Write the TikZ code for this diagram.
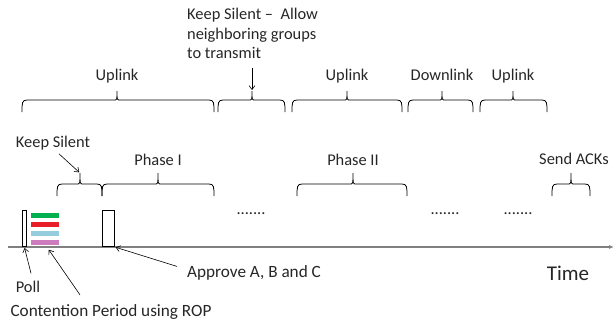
\documentclass[tikz,border=0pt]{standalone}
\usepackage{fontspec}
\setmainfont{Carlito}
\usetikzlibrary{arrows.meta}

\definecolor{bargreen}{RGB}{0,176,80}
\definecolor{barred}{RGB}{232,30,40}
\definecolor{barblue}{RGB}{150,205,222}
\definecolor{barpink}{RGB}{205,125,190}

% curly brace in office style: left x, right x, tip x, line y, tip height, tip name
\newcommand{\ofbrace}[6]{%
  \draw[bracel] (#1,#4+12) .. controls (#1,#4+3) and (#1,#4) .. (#1+5,#4) -- (#3-3,#4)
    .. controls (#3,#4) .. (#3,#4-#5) coordinate (#6)
    .. controls (#3,#4) .. (#3+3,#4) -- (#2-5,#4) .. controls (#2,#4) and (#2,#4+3) .. (#2,#4+12);}

\begin{document}
\begin{tikzpicture}[x=1pt, y=-1pt, font=\fontsize{16.4}{19.5}\selectfont, text=black!85,
		bracel/.style={line width=0.8pt},
		lbl/.style={inner sep=0pt, anchor=base},
		callout/.style={-{Straight Barb[length=4pt,width=6pt]}, line width=0.6pt, shorten >=1pt},
		slotbox/.style={draw, line width=0.7pt, fill=white, inner sep=0pt, anchor=south west},
		bar/.style={fill=#1, inner sep=0pt, minimum width=28pt, minimum height=5pt, anchor=north west}]
		\useasboundingbox (0,0) rectangle (616,322);
		% upper row of braces
		\ofbrace{22}{214}{117}{100}{9}{up1}
		\ofbrace{218}{285}{252}{100}{9}{quiet}
		\ofbrace{292}{402}{347}{100}{9}{up2}
		\ofbrace{408}{473}{442}{100}{9}{down}
		\ofbrace{480}{547}{513}{100}{9}{up3}
		% lower row of braces
		\ofbrace{57}{102}{80}{184}{11}{silent}
		\ofbrace{102}{214}{158}{184}{11}{ph1}
		\ofbrace{297}{407}{353}{184}{11}{ph2}
		\ofbrace{552}{590}{571}{184}{11}{ack}
		\node[lbl] (lup1) at (117,80) {Uplink};
		\node[lbl] (lup2) at (347,80) {Uplink};
		\node[lbl] (ldown) at (442,80) {Downlink};
		\node[lbl] (lup3) at (513,80) {Uplink};
		\node[inner sep=0pt, anchor=north west, align=left] (note) at (187,8) {Keep Silent -- \ Allow\\neighboring groups\\to transmit};
		\draw[callout] (note.south -| quiet) ++(0,9) -- (quiet);
		\node[lbl] (lsilent) at (53,147) {Keep Silent};
		\draw[callout] ([xshift=6pt,yshift=-4pt]lsilent.south) -- (silent);
		\node[lbl] (lph1) at (158,165) {Phase I};
		\node[lbl] (lph2) at (353,165) {Phase II};
		\node[lbl] (lack) at (574,164) {Send ACKs};
		\node[lbl] (gap1) at (251,214) {.......};
		\node[lbl] (gap2) at (445,214) {.......};
		\node[lbl] (gap3) at (518,214) {.......};
		% time axis
		\draw[gray, line width=1.3pt, -{Latex[length=5pt,width=4pt]}] (8,247) coordinate (t0) -- (614,247) coordinate (t1);
		\node[lbl, font=\fontsize{21}{24}\selectfont] (ltime) at (568,280) {Time};
		\node[slotbox, minimum width=4pt, minimum height=36pt] (pollbox) at (22,247) {};
		\node[bar=bargreen] (barg) at (31,213) {};
		\node[bar=barred] (barr) at (31,221.5) {};
		\node[bar=barblue] (barb) at (31,230.5) {};
		\node[bar=barpink] (barp) at (31,239.5) {};
		\node[slotbox, minimum width=12pt, minimum height=36pt] (apbox) at (102,247) {};
		\node[lbl] (lpoll) at (28,292) {Poll};
		\node[lbl, font=\fontsize{17.2}{20}\selectfont] (lcont) at (111,316) {Contention Period using ROP};
		\node[lbl, anchor=base west, font=\fontsize{17.2}{20}\selectfont] (lappr) at (187,277) {Approve A, B and C};
		\draw[callout] ([xshift=3pt,yshift=7pt]lpoll.north) -- (pollbox.south);
		\draw[callout] ([xshift=-31pt,yshift=9pt]lcont.north) -- ([xshift=3pt,yshift=-4pt]barp.south);
		\draw[callout] ([xshift=-10pt,yshift=6pt]lappr.west) -- (apbox.south east);
	\end{tikzpicture}
\end{document}
